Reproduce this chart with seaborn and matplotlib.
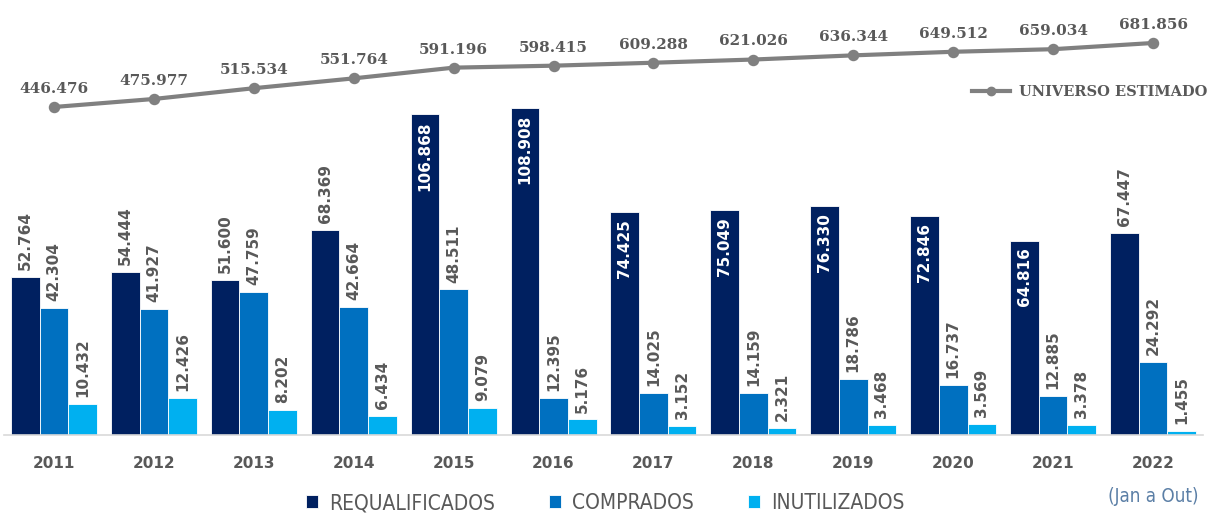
import pandas as pd
import matplotlib
matplotlib.use("Agg")
import matplotlib.pyplot as plt
from matplotlib.lines import Line2D
from matplotlib.font_manager import FontProperties
import seaborn as sns

# dados
anos = ['2011', '2012', '2013', '2014', '2015', '2016', '2017', '2018', '2019', '2020', '2021', '2022']
requalificados = [52.764, 54.444, 51.600, 68.369, 106.868, 108.908, 74.425, 75.049, 76.330, 72.846, 64.816, 67.447]
comprados = [42.304, 41.927, 47.759, 42.664, 48.511, 12.395, 14.025, 14.159, 18.786, 16.737, 12.885, 24.292]
inutilizados = [10.432, 12.426, 8.202, 6.434, 9.079, 5.176, 3.152, 2.321, 3.468, 3.569, 3.378, 1.455]
universo = [446.476, 475.977, 515.534, 551.764, 591.196, 598.415, 609.288, 621.026, 636.344, 649.512, 659.034, 681.856]
series = ['REQUALIFICADOS', 'COMPRADOS', 'INUTILIZADOS']
cores = ['#002060', '#0070C0', '#00B0F0']
# rotulos do REQUALIFICADOS que ficam dentro da barra
dentro = ['2015', '2016', '2017', '2018', '2019', '2020', '2021']

def fmt(v):
    return f"{v:.3f}"

df = pd.DataFrame({
    'ano': anos * 3,
    'serie': [s for s in series for _ in anos],
    'valor': requalificados + comprados + inutilizados,
})

cinza = '#595959'
fig = plt.figure(figsize=(12.12, 5.15), dpi=100)
ax = fig.add_axes([4 / 1212, 80 / 515, 1199 / 1212, 435 / 515])

sns.barplot(data=df, x='ano', y='valor', hue='serie', hue_order=series, palette=cores,
            saturation=1, width=0.86, gap=0, edgecolor='white', linewidth=0.6,
            ax=ax, errorbar=None)
handles, labels = ax.get_legend_handles_labels()
ax.get_legend().remove()

for cont, nome in zip(ax.containers, series):
    for patch, ano in zip(cont.patches, anos):
        h = patch.get_height()
        xc = patch.get_x() + patch.get_width() / 2
        if nome == 'REQUALIFICADOS' and ano in dentro:
            ax.annotate(fmt(h), (xc, h), xytext=(0, -5), textcoords='offset points',
                        rotation=90, ha='center', va='top', color='white',
                        fontsize=11, fontweight='bold')
        else:
            ax.annotate(fmt(h), (xc, h), xytext=(0, 5), textcoords='offset points',
                        rotation=90, ha='center', va='bottom', color=cinza,
                        fontsize=11, fontweight='bold')

ax.set_ylim(0, 145)
ax.set_xlim(-0.5, 11.5)
ax.set_xlabel('')
ax.set_ylabel('')
ax.set_yticks([])
for s in ['top', 'right', 'left']:
    ax.spines[s].set_visible(False)
ax.spines['bottom'].set_color('#d9d9d9')
ax.spines['bottom'].set_linewidth(1.2)
ax.tick_params(axis='x', length=0, pad=15, labelsize=11, labelcolor=cinza)
for t in ax.get_xticklabels():
    t.set_fontweight('bold')

# linha do universo estimado
ax2 = ax.twinx()
sns.pointplot(x=anos, y=universo, ax=ax2, color='#808080', markers='o',
              markersize=6, linewidth=3, errorbar=None)
for i, v in enumerate(universo):
    ax2.annotate(fmt(v), (i, v), xytext=(0, 8), textcoords='offset points',
                 ha='center', va='bottom', color=cinza, fontsize=11,
                 fontweight='bold', family='DejaVu Serif')
ax2.set_ylim(-759.5, 839.9)
ax2.set_xlim(-0.5, 11.5)
ax2.set_yticks([])
ax2.set_ylabel('')
for s in ['top', 'right', 'left', 'bottom']:
    ax2.spines[s].set_visible(False)

fonte_leg = FontProperties(family='DejaVu Sans', stretch='condensed', size=15)
leg = fig.legend(handles, labels, loc='center', bbox_to_anchor=(605 / 1212, 1 - 503 / 515),
                 ncol=3, frameon=False, handlelength=0.6, handleheight=0.6,
                 handletextpad=0.5, columnspacing=2.6, prop=fonte_leg)
for t in leg.get_texts():
    t.set_color(cinza)

linha = Line2D([], [], color='#808080', marker='o', markersize=6, linewidth=3)
leg2 = fig.legend([linha], ['UNIVERSO ESTIMADO'], loc='center',
                  bbox_to_anchor=(1090 / 1212, 1 - 92 / 515), frameon=False,
                  handlelength=2.6, handletextpad=0.6,
                  prop={'family': ['DejaVu Serif'], 'size': 10.5, 'weight': 'bold'})
for t in leg2.get_texts():
    t.set_color(cinza)

fig.text(1198 / 1212, 1 - 497 / 515, '(Jan a Out)', ha='right', va='center',
         color='#5b7fa6',
         fontproperties=FontProperties(family='DejaVu Sans', stretch='condensed', size=13.5))

fig.savefig('out.png', dpi=100)
